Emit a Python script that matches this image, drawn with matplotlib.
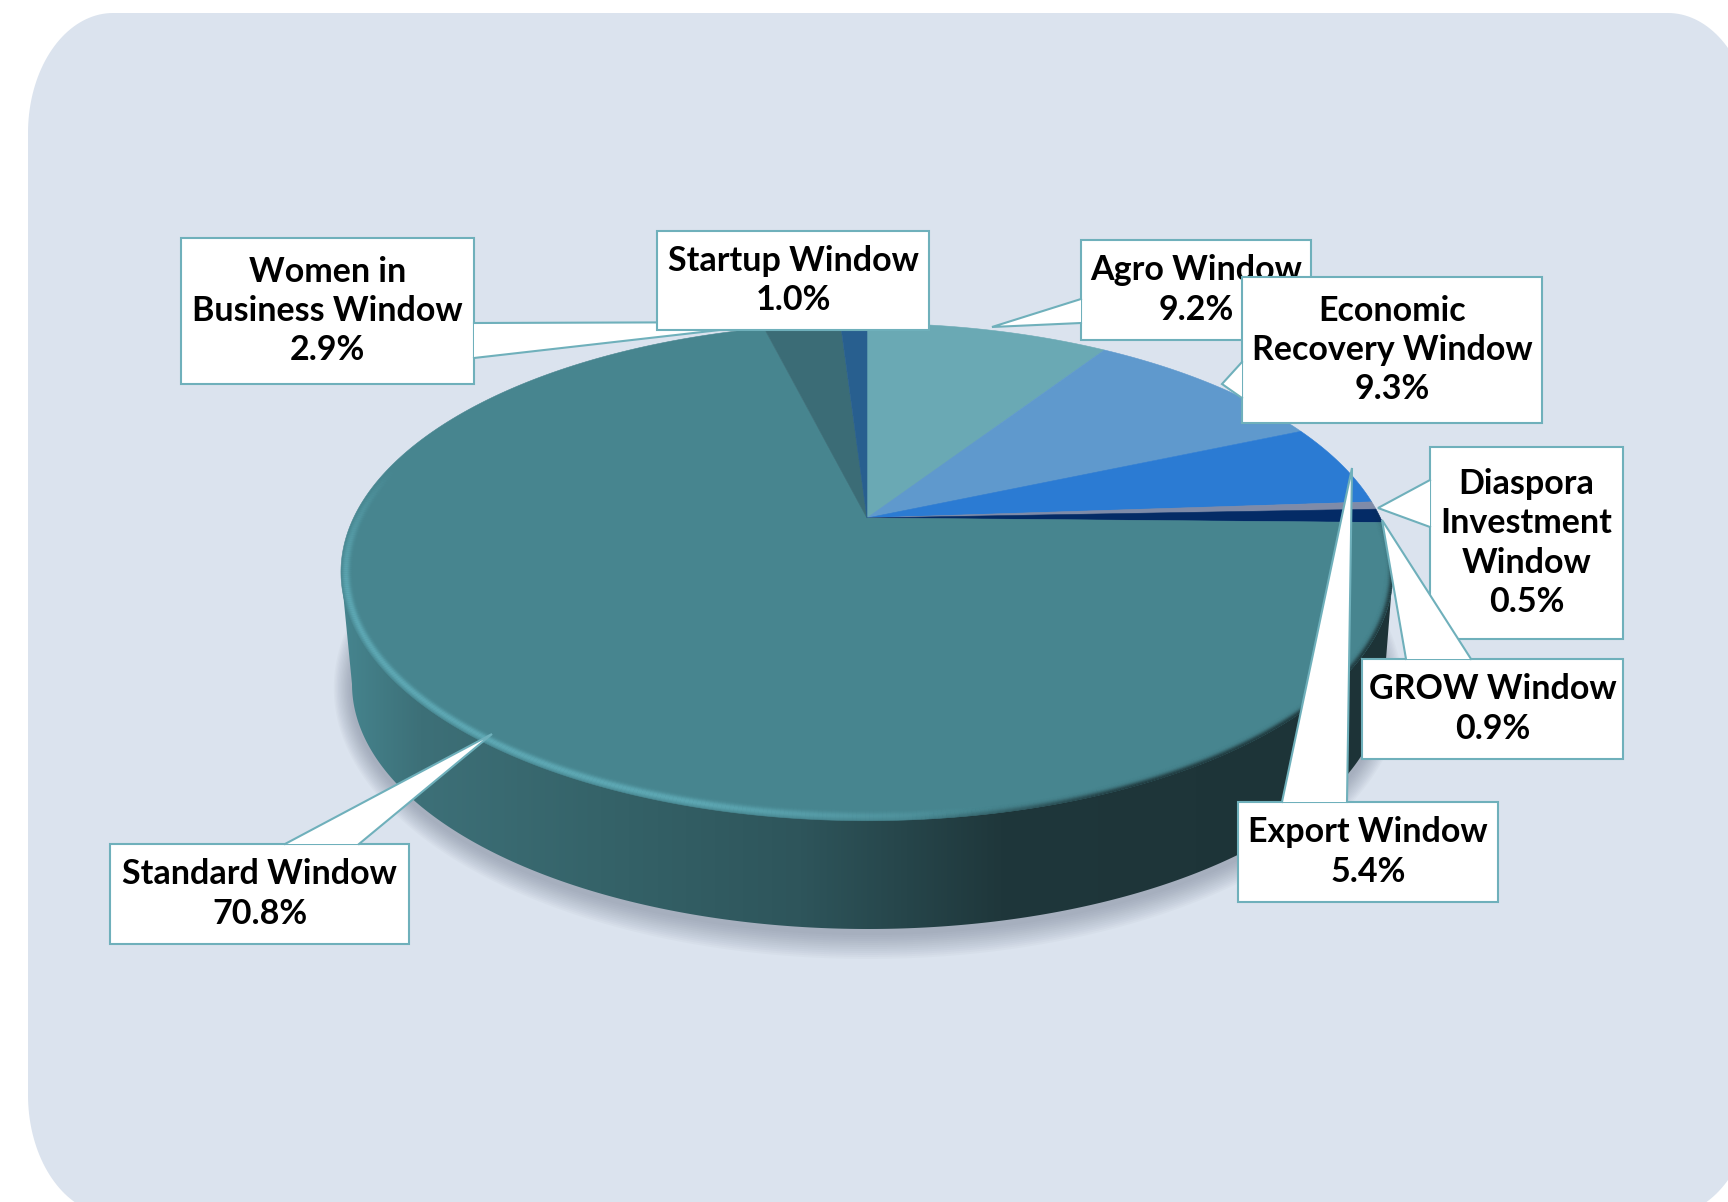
import numpy as np
import matplotlib
matplotlib.use("Agg")
import matplotlib.pyplot as plt
from matplotlib.collections import LineCollection
from matplotlib.colors import to_rgb
from matplotlib.patches import Polygon, Rectangle

# clockwise from 12 o'clock
names = ["Agro Window", "Economic\nRecovery Window", "Export Window",
         "Diaspora\nInvestment\nWindow", "GROW Window", "Standard Window",
         "Women in\nBusiness Window", "Startup Window"]
shares = [9.2, 9.3, 5.4, 0.5, 0.9, 70.8, 2.9, 1.0]
colors = ["#6AA9B4", "#5F99CD", "#2B7BD3", "#7F8BA8", "#042B66", "#47858F",
          "#3B6C76", "#285F8F"]

# label boxes: x0, y0, x1, y1
boxes = [(1081, 240, 1311, 340), (1242, 277, 1542, 423), (1238, 802, 1498, 902),
         (1430, 447, 1623, 639), (1362, 659, 1623, 759), (110, 844, 409, 944),
         (181, 238, 474, 384), (657, 231, 929, 330)]
# pointer: base point, tip, base point
pointers = [((1081, 299), (992, 327), (1081, 323)),
            ((1242, 362), (1222, 384), (1242, 398)),
            ((1282, 802), (1352, 468), (1347, 802)),
            ((1430, 480), (1378, 508), (1430, 527)),
            ((1406, 659), (1382, 520), (1471, 659)),
            ((285, 844), (492, 734), (359, 844)),
            ((474, 323), (790, 322), (474, 358)),
            None]
draw_order = [6, 7, 0, 1, 3, 4, 2, 5]

BG = "#DBE3EE"
EDGE = "#6FB0BB"

# tilted pie on screen
APEX_X, APEX_Y = 867, 518
PIE_A, PIE_B, PIE_K = 513.5, 237, 0.217
TOP_CX, TOP_CY, TOP_RX, TOP_RY = 867, 572, 526, 249
BOT_CX, BOT_CY, BOT_RX, BOT_RY = 868, 684, 516, 245


def pie_point(frac, r=1.0):
    ang = 2 * np.pi * np.asarray(frac)
    u, v = r * np.sin(ang), r * np.cos(ang)
    w = 1 + PIE_K * v
    return APEX_X + PIE_A * u / w, APEX_Y - PIE_B * v / w


def ellipse(cx, cy, rx, ry, t):
    return cx + rx * np.cos(t), cy + ry * np.sin(t)


def rounded_bg(ax):
    x0, y0, x1, y1 = 28, 13, 1753, 1215
    rx, ry = 85, 120
    pts = []
    for cx, cy, a0 in [(x0 + rx, y0 + ry, 180), (x1 - rx, y0 + ry, 270),
                       (x1 - rx, y1 - ry, 0), (x0 + rx, y1 - ry, 90)]:
        t = np.radians(np.linspace(a0, a0 + 90, 40))
        pts += list(zip(cx + rx * np.cos(t), cy + ry * np.sin(t)))
    ax.add_patch(Polygon(pts, closed=True, fc=BG, ec="none", zorder=0))


def draw_shadow(ax):
    t = np.linspace(0, 2 * np.pi, 300)
    for d in np.arange(26, 0, -2):
        x, y = ellipse(BOT_CX, BOT_CY + 4, BOT_RX + d * 0.7, BOT_RY + d, t)
        ax.fill(x, y, color="#5A6678", alpha=0.035, lw=0, zorder=1)


def draw_side(ax):
    t = np.linspace(np.pi, 0, 300)
    x, y = ellipse(BOT_CX, BOT_CY, BOT_RX, BOT_RY, t)
    pts = [(TOP_CX - TOP_RX, TOP_CY)] + list(zip(x, y)) + [(TOP_CX + TOP_RX, TOP_CY)]
    clip = Polygon(pts, closed=True, transform=ax.transData)

    stops_x = [338, 420, 600, 800, 1000, 1391]
    stops_c = [to_rgb(c) for c in ["#468690", "#3D7078", "#356369", "#2E555B",
                                   "#1F373B", "#1D3337"]]
    xs = np.arange(338, 1392)
    grad = np.stack([np.interp(xs, stops_x, [c[i] for c in stops_c]) for i in range(3)], axis=1)
    im = ax.imshow(grad[None, :, :], extent=(338, 1392, 935, 560), aspect="auto", zorder=2)
    im.set_clip_path(clip)


def draw_top(ax):
    cum = np.concatenate([[0], np.cumsum(shares) / np.sum(shares)])
    for i, c in enumerate(colors):
        fr = np.linspace(cum[i], cum[i + 1], max(4, int(shares[i] * 8)))
        x, y = pie_point(fr)
        ax.fill(np.r_[APEX_X, x], np.r_[APEX_Y, y], fc=c, ec=c, lw=0.4, zorder=3)


def draw_rim(ax):
    # bevel: light band lower left, dark fade lower right
    t = np.radians(np.linspace(-20, 215, 500))
    deg = np.degrees((t[:-1] + t[1:]) / 2)
    light = np.clip((deg - 75) / 35, 0, 1) * np.clip((205 - deg) / 30, 0, 1)
    dark = np.clip((deg + 15) / 20, 0, 1) * np.clip((85 - deg) / 25, 0, 1)
    for d in np.arange(0.5, 12, 1.0):
        x, y = ellipse(TOP_CX, TOP_CY, TOP_RX - d, TOP_RY - d, t)
        segs = np.stack([np.c_[x[:-1], y[:-1]], np.c_[x[1:], y[1:]]], axis=1)
        # band is brightest a few pixels in from the edge
        la = light * np.exp(-((d - 5) / 3.5) ** 2) * 0.75
        lc = np.zeros((len(segs), 4))
        lc[:, :3] = to_rgb("#63B0BC")
        lc[:, 3] = la
        ax.add_collection(LineCollection(segs, colors=lc, linewidths=1.0, zorder=4))
        da = dark * np.exp(-(d / 3.5) ** 2) * 0.85
        dc = np.zeros((len(segs), 4))
        dc[:, :3] = to_rgb("#1D3337")
        dc[:, 3] = da
        ax.add_collection(LineCollection(segs, colors=dc, linewidths=1.0, zorder=4))


def draw_labels(ax):
    for n, i in enumerate(draw_order):
        z = 10 + n
        x0, y0, x1, y1 = boxes[i]
        ax.add_patch(Rectangle((x0, y0), x1 - x0, y1 - y0, fc="white", ec=EDGE, lw=1.5, zorder=z))
        if pointers[i] is not None:
            a, tip, b = pointers[i]
            ax.add_patch(Polygon([a, tip, b], closed=True, fc="white", ec="none", zorder=z))
            ax.plot([a[0], tip[0], b[0]], [a[1], tip[1], b[1]], color=EDGE, lw=1.5,
                    solid_joinstyle="miter", zorder=z)
        ax.text((x0 + x1) / 2, (y0 + y1) / 2, f"{names[i]}\n{shares[i]:.1f}%",
                ha="center", va="center", fontsize=24.5, fontweight="bold",
                family="Lato", color="black", linespacing=1.27, zorder=z + 0.5)


def main():
    fig = plt.figure(figsize=(17.28, 12.02), dpi=100, facecolor="white")
    ax = fig.add_axes([0, 0, 1, 1])

    rounded_bg(ax)
    draw_shadow(ax)
    draw_side(ax)
    draw_top(ax)
    draw_rim(ax)
    draw_labels(ax)

    ax.set_xlim(0, 1728)
    ax.set_ylim(1202, 0)
    ax.axis("off")
    fig.savefig("out.png", dpi=100, facecolor="white")


if __name__ == "__main__":
    main()
